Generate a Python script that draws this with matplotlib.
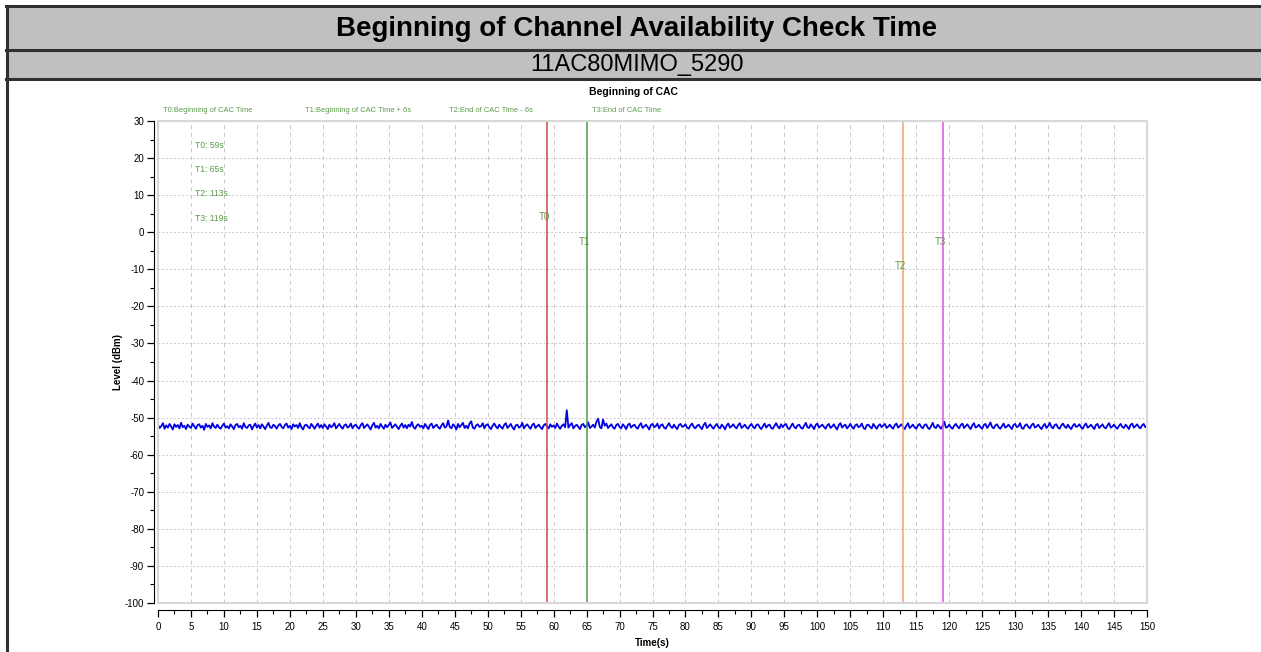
import matplotlib
matplotlib.use("Agg")
import matplotlib.pyplot as plt
import numpy as np
from matplotlib.patches import Rectangle
from matplotlib.lines import Line2D
from matplotlib.ticker import MultipleLocator

plt.rcParams["axes.unicode_minus"] = False

title = "Beginning of Channel Availability Check Time"
subtitle = "11AC80MIMO_5290"
chart_title = "Beginning of CAC"
marker_names = ["T0", "T1", "T2", "T3"]
marker_times = [59, 65, 113, 119]
marker_label_levels = [4, -2.7, -9.2, -2.7]
marker_colors = ["#d04848", "#4c9e4c", "#f0a070", "#e050e0"]
top_labels = ["T0:Beginning of CAC Time", "T1:Beginning of CAC Time + 6s",
              "T2:End of CAC Time - 6s", "T3:End of CAC Time"]
info_labels = ["T0: 59s", "T1: 65s", "T2: 113s", "T3: 119s"]
info_levels = [23.5, 17, 10.5, 3.8]

time_step = 0.25
level_dbm = [
    -51.9,-52.8,-52.3,-51.5,-53.0,-52.1,-52.7,-51.7,-52.4,-53.2,-51.8,-52.5,-52.0,-52.9,-51.4,-52.6,-52.2,-53.1,-51.9,-52.4,
    -52.8,-51.6,-52.3,-53.0,-52.0,-51.8,-52.7,-52.2,-53.3,-51.7,-52.5,-52.1,-52.9,-51.5,-52.4,-52.8,-51.9,-52.6,-53.0,-52.2,
    -51.6,-52.7,-52.3,-52.9,-51.8,-52.4,-53.1,-52.0,-51.7,-52.6,-52.2,-53.0,-51.5,-52.5,-52.8,-52.1,-51.9,-53.2,-52.3,-51.6,
    -52.7,-52.0,-52.9,-51.8,-52.4,-53.1,-52.2,-51.4,-52.6,-52.8,-51.9,-52.3,-53.0,-52.1,-51.7,-52.5,-52.9,-52.0,-51.6,-52.7,
    -52.2,-53.1,-51.8,-52.4,-52.0,-52.8,-51.5,-52.6,-53.2,-52.1,-51.9,-52.5,-52.9,-51.7,-52.3,-53.0,-52.2,-51.6,-52.7,-52.0,
    -52.8,-51.8,-52.4,-53.1,-51.9,-52.6,-52.2,-51.5,-52.9,-52.3,-51.7,-52.5,-53.0,-52.1,-51.8,-52.7,-52.4,-51.6,-52.9,-52.2,
    -51.9,-52.6,-53.0,-52.0,-51.5,-52.8,-52.3,-51.8,-52.5,-53.2,-52.1,-51.4,-52.7,-52.2,-52.9,-51.7,-52.4,-53.0,-51.9,-52.6,
    -52.0,-51.3,-52.8,-52.3,-51.8,-52.5,-53.1,-52.2,-51.6,-52.7,-52.0,-52.9,-51.9,-52.4,-51.2,-52.6,-53.0,-52.1,-51.8,-52.5,
    -52.2,-52.9,-51.7,-52.4,-53.1,-52.0,-51.6,-52.8,-52.3,-51.9,-52.6,-53.0,-52.1,-51.5,-52.7,-52.4,-50.8,-52.5,-52.9,-51.8,
    -52.3,-53.2,-51.7,-52.6,-52.0,-51.4,-52.8,-52.2,-52.9,-51.6,-51.0,-52.7,-53.0,-52.1,-51.8,-52.5,-52.3,-51.5,-52.9,-52.0,
    -51.8,-52.6,-53.1,-52.2,-51.6,-52.4,-52.9,-51.9,-52.5,-53.0,-52.0,-51.5,-52.8,-52.3,-51.7,-52.6,-53.2,-52.1,-51.9,-52.7,
    -52.4,-51.4,-52.9,-52.2,-51.8,-52.5,-53.0,-52.0,-51.6,-52.8,-52.3,-51.9,-52.6,-53.1,-52.1,-51.7,-52.4,-52.9,-51.8,-52.5,
    -52.1,-52.8,-51.6,-52.4,-53.0,-52.2,-51.8,-52.6,-48.0,-52.7,-52.0,-51.5,-52.9,-52.3,-51.9,-52.5,-53.1,-52.0,-51.7,-52.6,
    -52.2,-51.3,-52.8,-52.4,-51.9,-52.7,-51.1,-50.3,-52.5,-52.9,-50.5,-52.2,-51.6,-52.8,-52.3,-51.8,-52.6,-53.0,-52.0,-51.7,
    -52.5,-52.9,-51.8,-52.3,-53.1,-52.0,-51.6,-52.7,-52.2,-51.9,-52.6,-53.0,-52.1,-51.5,-52.8,-52.4,-51.9,-52.5,-53.2,-52.0,
    -51.7,-52.6,-52.3,-51.6,-52.9,-52.1,-51.8,-52.7,-53.0,-52.2,-51.5,-52.4,-52.8,-51.9,-52.6,-53.1,-52.0,-51.7,-52.5,-52.3,
    -51.8,-52.7,-53.0,-52.1,-51.6,-52.5,-52.9,-52.2,-51.9,-52.6,-53.1,-52.0,-51.4,-52.8,-52.3,-51.8,-52.5,-53.0,-52.2,-51.7,
    -52.6,-52.9,-51.9,-52.4,-53.2,-52.1,-51.6,-52.7,-52.3,-51.8,-52.5,-52.9,-52.0,-51.5,-52.8,-52.4,-51.9,-52.6,-53.0,-52.2,
    -51.7,-52.5,-52.9,-52.0,-51.8,-52.6,-53.1,-52.3,-51.6,-52.7,-52.1,-51.9,-52.8,-53.0,-52.2,-51.5,-52.4,-52.9,-51.8,-52.6,
    -52.0,-51.7,-52.8,-53.1,-52.3,-51.6,-52.5,-52.9,-52.1,-51.9,-52.7,-53.0,-52.2,-51.4,-52.6,-52.8,-51.8,-52.4,-53.1,-52.0,
    -51.6,-52.7,-52.3,-51.9,-52.5,-53.0,-52.1,-51.7,-52.8,-52.4,-51.8,-52.6,-53.2,-52.0,-51.5,-52.7,-52.2,-51.9,-52.9,-52.4,
    -51.7,-52.5,-53.0,-52.1,-51.8,-52.6,-52.3,-51.6,-52.8,-53.1,-52.0,-51.9,-52.5,-52.9,-51.7,-52.4,-53.0,-52.2,-51.8,-52.6,
    -52.1,-51.7,-52.8,-52.4,-51.9,-52.6,-53.0,-52.0,-51.6,-52.7,-52.3,-51.8,-52.5,-53.1,-52.2,-51.5,-52.8,-52.4,-51.9,-52.6,
    -53.0,-52.1,-51.7,-52.5,-52.9,-52.0,-51.8,-52.7,-53.1,-52.3,-51.4,-52.6,-52.8,-51.9,-52.4,-53.0,-52.2,-51.1,-52.7,-52.5,
    -51.9,-52.6,-53.0,-52.2,-51.7,-52.4,-52.9,-52.0,-51.6,-52.8,-52.3,-51.8,-52.5,-53.1,-52.1,-51.5,-52.7,-52.4,-51.9,-52.6,
    -53.0,-52.0,-51.7,-52.8,-52.2,-51.3,-52.5,-52.9,-52.1,-51.8,-52.6,-53.0,-52.3,-51.6,-52.7,-52.4,-51.9,-52.5,-53.1,-52.0,
    -51.7,-52.6,-52.3,-51.5,-52.8,-53.0,-52.1,-51.8,-52.5,-52.9,-52.0,-51.6,-52.7,-52.4,-51.9,-52.6,-53.1,-52.2,-51.7,-52.8,
    -52.3,-51.4,-52.5,-52.9,-52.0,-51.8,-52.7,-53.0,-52.1,-51.6,-52.4,-52.8,-51.9,-52.6,-53.1,-52.2,-51.7,-52.5,-52.3,-51.8,
    -52.6,-53.0,-52.1,-51.6,-52.7,-52.4,-51.9,-52.5,-53.1,-52.0,-51.7,-52.8,-52.3,-51.8,-52.6,-52.9,-52.1,-51.5,-52.7,-52.4,
    -51.9,-52.6,-53.0,-52.2,-51.7,-52.5,-52.8,-51.9,-52.4,-53.1,-52.0,-51.6,-52.7,-52.3,-51.8,-52.5,-52.9,-52.1,-51.7,-52.6,
    -52.2,
]
x_ticks = list(range(0, 151, 5))
y_ticks = list(range(-100, 31, 10))

W, H = 1261, 652
fig = plt.figure(figsize=(W / 100, H / 100), dpi=100)
fig.patch.set_facecolor("white")

def fx(px):
    return px / W

def fy(py):
    return 1 - py / H

sans = ["Liberation Sans", "DejaVu Sans"]
green = "#5a9a4a"

# header table
fig.patches.append(Rectangle((fx(6), fy(79)), fx(1261) - fx(6), fy(6) - fy(79),
                             transform=fig.transFigure, facecolor="#c0c0c0", edgecolor="none"))
for yy in [6, 50, 79]:
    fig.lines.append(Line2D([fx(6), 1.0], [fy(yy), fy(yy)], transform=fig.transFigure,
                            color="#303030", lw=2.2))
fig.lines.append(Line2D([fx(6.5), fx(6.5)], [fy(6), 0.0], transform=fig.transFigure,
                        color="#303030", lw=2.2))
fig.text(fx(637), fy(29), title, ha="center", va="center", fontsize=20, fontweight="bold",
         family=sans)
fig.text(fx(637), fy(65), subtitle, ha="center", va="center", fontsize=17, family=sans)
fig.text(fx(633), fy(92), chart_title, ha="center", va="center", fontsize=7.5, fontweight="bold",
         family=sans)
for lab, px in zip(top_labels, [163, 305, 449, 592]):
    fig.text(fx(px), fy(110), lab, ha="left", va="center", fontsize=5.4, color=green, family=sans)

# plot axes
ax = fig.add_axes([fx(158), fy(603), fx(1147) - fx(158), fy(121) - fy(603)])
x = np.arange(len(level_dbm)) * time_step
ax.plot(x, level_dbm, color="#0000e6", lw=1.3, zorder=3)
ax.set_xlim(0, 150)
ax.set_ylim(-100, 30)

for t, c, name, lv in zip(marker_times, marker_colors, marker_names, marker_label_levels):
    ax.axvline(t, color=c, lw=1.1, zorder=4)
    ax.text(t - 0.4, lv, name, ha="center", va="center", fontsize=7, color=green, family=sans, zorder=5)

for lab, lv in zip(info_labels, info_levels):
    ax.text(5.6, lv, lab, ha="left", va="center", fontsize=6.2, color=green, family=sans)

ax.set_xticks(x_ticks)
ax.set_yticks(y_ticks)
ax.xaxis.set_minor_locator(MultipleLocator(2.5))
ax.yaxis.set_minor_locator(MultipleLocator(5))
ax.grid(True, which="major", axis="x", color="#c8c8c8", ls=(0, (4, 4)), lw=0.7)
ax.grid(True, which="major", axis="y", color="#c8c8c8", ls=(0, (2, 2)), lw=0.7)

for s in ["top", "right"]:
    ax.spines[s].set_color("#d8d8d8")
ax.spines["left"].set_position(("outward", 3))
ax.spines["bottom"].set_position(("outward", 5))
ax.spines["left"].set_color("black")
ax.spines["bottom"].set_color("black")
ax.add_patch(Rectangle((0, 0), 1, 1, transform=ax.transAxes, fill=False,
                       edgecolor="#d8d8d8", lw=1.5, zorder=6, clip_on=False))

ax.tick_params(axis="both", which="major", length=5, width=0.9, direction="out", labelsize=7, pad=2)
ax.tick_params(axis="x", which="major", pad=4)
ax.tick_params(axis="both", which="minor", length=3, width=0.8, direction="out")
for lbl in ax.get_xticklabels() + ax.get_yticklabels():
    lbl.set_family(sans)

ax.set_xlabel("Time(s)", fontsize=7, fontweight="bold", family=sans, labelpad=4)
ax.set_ylabel("Level (dBm)", fontsize=7, fontweight="bold", family=sans, labelpad=1)

fig.savefig("out.png", dpi=100)
